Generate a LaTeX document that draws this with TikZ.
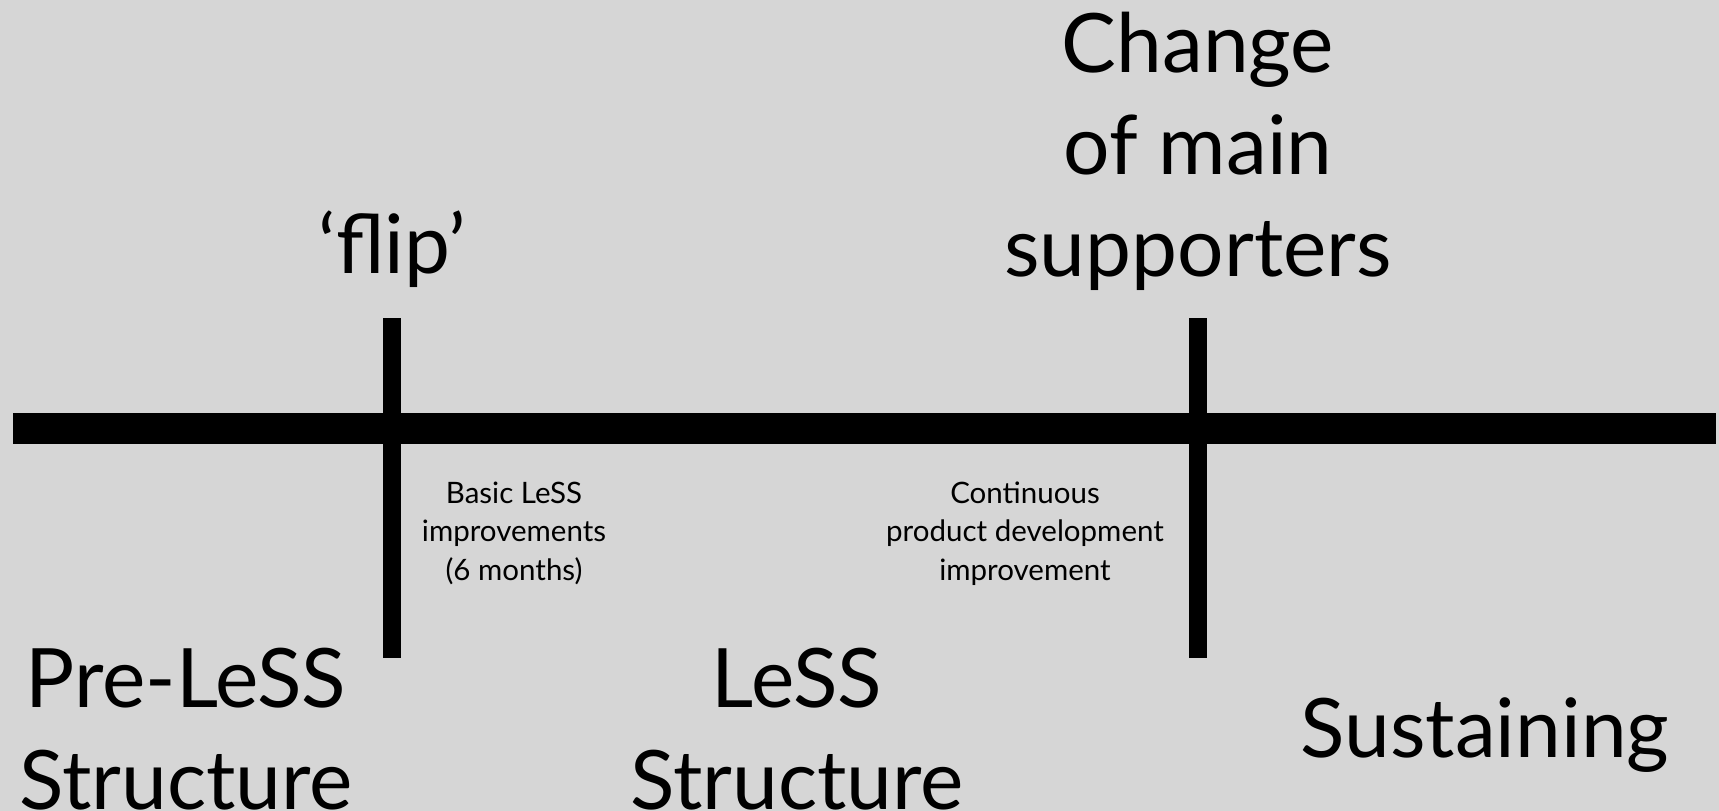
\documentclass[tikz,border=0pt]{standalone}
\usepackage{fontspec}
\setmainfont{Lato}
\definecolor{bggray}{RGB}{214,214,214}
\tikzset{
  bigtxt/.style={inner sep=0pt, anchor=base, align=center, font=\fontsize{82}{102}\selectfont},
  smalltxt/.style={inner sep=0pt, anchor=base, align=center, font=\fontsize{29.5}{38.5}\selectfont},
  barfill/.style={fill=black, draw=none}
}
\begin{document}
\begin{tikzpicture}[x=1pt, y=-1pt]
\fill[bggray] (0,0) rectangle (1719,811);
\useasboundingbox (0,0) rectangle (1719,811);
% timeline
\fill[barfill] (13,413) rectangle (1716,444);
\fill[barfill] (383,318) rectangle (401,658);
\fill[barfill] (1189,318) rectangle (1207,658);
% labels (base anchor = baseline of the last line)
\node[bigtxt] (flip) at (392,273) {‘flip’};
\node[bigtxt] (change) at (1198,276) {Change\\of main\\supporters};
\node[bigtxt] (pre) at (186,809) {Pre-LeSS\\Structure};
\node[bigtxt] (less) at (797,809) {LeSS\\Structure};
\node[bigtxt] (sust) at (1485,757) {Sustaining};
\node[smalltxt] (basic) at (514,580) {Basic LeSS\\improvements\\(6 months)};
\node[smalltxt] (cont) at (1025,580) {Continuous\\product development\\improvement};
\end{tikzpicture}
\end{document}
